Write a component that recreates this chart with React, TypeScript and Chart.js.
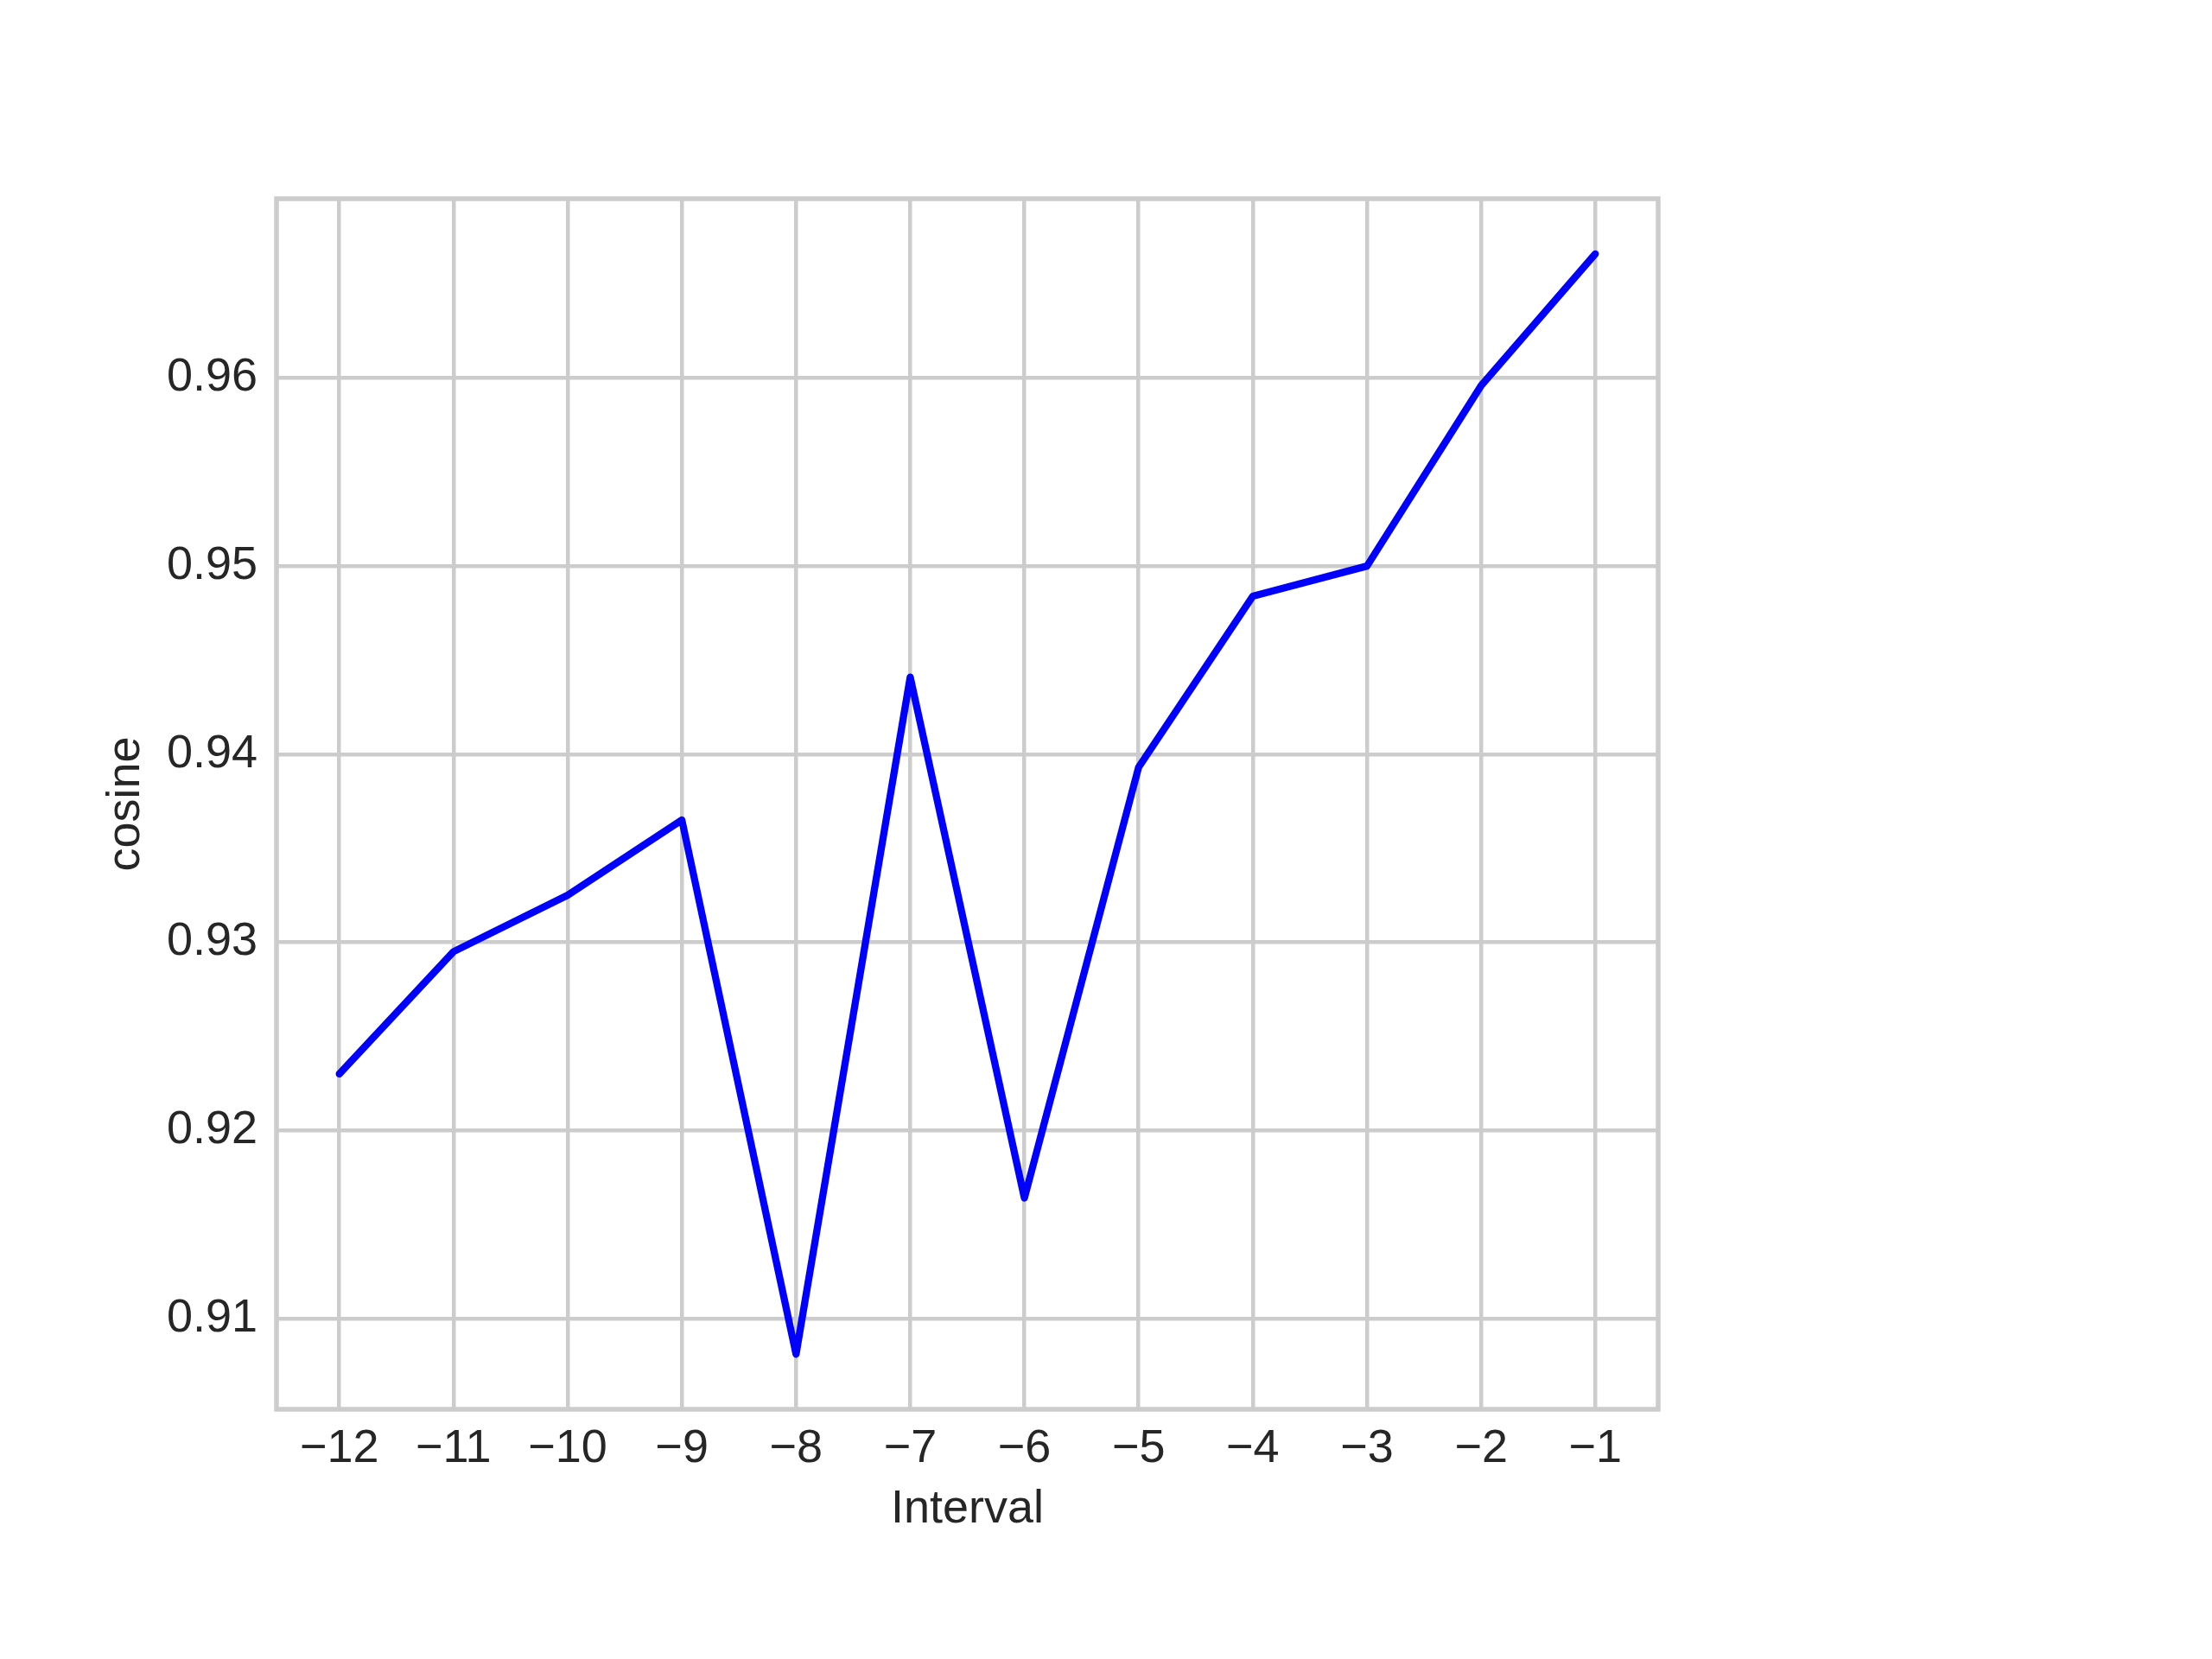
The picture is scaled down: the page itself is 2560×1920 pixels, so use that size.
import React, { useEffect, useRef } from "react";
import { Chart, registerables } from "chart.js";

Chart.register(...registerables);

const intervals = [-12, -11, -10, -9, -8, -7, -6, -5, -4, -3, -2, -1];
const cosine = [0.923, 0.9295, 0.9325, 0.9365, 0.9081, 0.9441, 0.9164, 0.9393, 0.9484, 0.95, 0.9596, 0.9666];
const xTicks = [-12, -11, -10, -9, -8, -7, -6, -5, -4, -3, -2, -1];
const yTicks = [0.91, 0.92, 0.93, 0.94, 0.95, 0.96];

const FONT = "'Liberation Sans', Arial, sans-serif";
const TEXT = "#262626";
const GRID = "#cccccc";

const framePlugin = {
  id: "frame",
  beforeDatasetsDraw(chart: any) {
    const { ctx, chartArea } = chart;
    ctx.save();
    ctx.strokeStyle = GRID;
    ctx.lineWidth = 5.5;
    ctx.strokeRect(chartArea.left, chartArea.top, chartArea.right - chartArea.left, chartArea.bottom - chartArea.top);
    ctx.restore();
  },
};

export default function App() {
  const ref = useRef<HTMLCanvasElement | null>(null);
  useEffect(() => {
    if (!ref.current) return;
    const chart = new Chart(ref.current, {
      type: "line",
      data: {
        datasets: [
          {
            data: intervals.map((x, i) => ({ x, y: cosine[i] })),
            borderColor: "#0000ff",
            borderWidth: 8.3,
            pointRadius: 0,
            tension: 0,
            fill: false,
            borderCapStyle: "round",
            borderJoinStyle: "round",
          },
        ],
      },
      options: {
        animation: false,
        responsive: false,
        layout: { padding: { left: 0, top: 230, right: 641, bottom: 0 } },
        plugins: { legend: { display: false }, tooltip: { enabled: false } },
        scales: {
          x: {
            type: "linear",
            min: -12.55,
            max: -0.45,
            afterBuildTicks: (s: any) => {
              s.ticks = xTicks.map((v) => ({ value: v }));
            },
            afterFit: (s: any) => {
              s.height = 289;
            },
            grid: { color: GRID, lineWidth: 4.5, drawTicks: false },
            border: { display: false },
            ticks: {
              padding: 14,
              color: TEXT,
              font: { family: FONT, size: 54 },
              callback: (v: any) => (v < 0 ? "\u2212" + Math.abs(v) : String(v)),
            },
            title: {
              display: true,
              text: "Interval",
              color: TEXT,
              font: { family: FONT, size: 54 },
              padding: { top: 0, bottom: 140 },
            },
          },
          y: {
            type: "linear",
            min: 0.90517,
            max: 0.96953,
            afterBuildTicks: (s: any) => {
              s.ticks = yTicks.map((v) => ({ value: v }));
            },
            afterFit: (s: any) => {
              s.width = 320;
            },
            grid: { color: GRID, lineWidth: 4.5, drawTicks: false },
            border: { display: false },
            ticks: {
              padding: 22,
              color: TEXT,
              font: { family: FONT, size: 54 },
              callback: (v: any) => Number(v).toFixed(2),
            },
            title: {
              display: true,
              text: "cosine",
              color: TEXT,
              font: { family: FONT, size: 54 },
              padding: { top: 114, bottom: 0 },
            },
          },
        },
      },
      plugins: [framePlugin],
    });
    return () => chart.destroy();
  }, []);
  return (
    <div style={{ position: "absolute", left: 0, top: 0, width: 2560, height: 1920, background: "#fff" }}>
      <canvas ref={ref} width={2560} height={1920} style={{ display: "block", width: 2560, height: 1920 }} />
    </div>
  );
}
